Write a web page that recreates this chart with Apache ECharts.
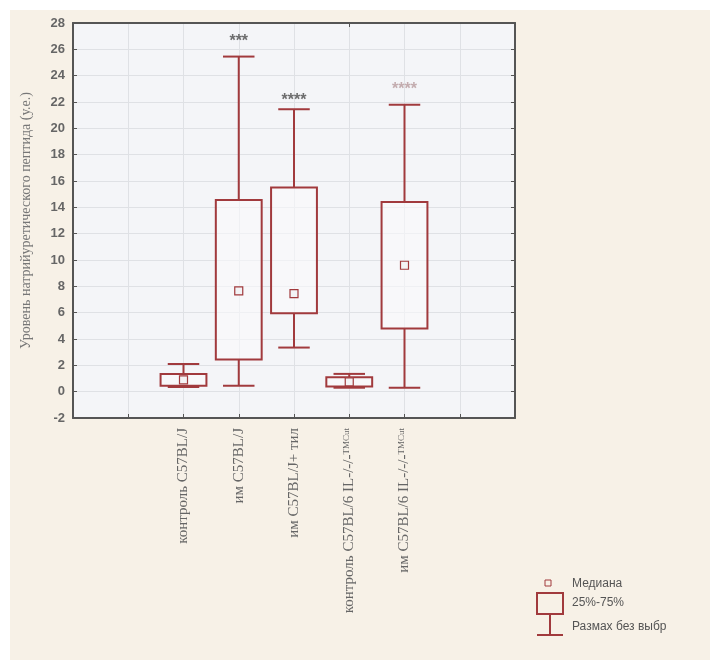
<!DOCTYPE html>
<html>
<head>
<meta charset="utf-8">
<script src="https://cdn.jsdelivr.net/npm/echarts@6/dist/echarts.min.js"></script>
<style>
html,body{margin:0;padding:0;background:#ffffff;}
#chart{width:710px;height:660px;}
</style>
</head>
<body>
<div id="chart"></div>
<script>
// ---- data ----
var categories = ['контроль C57BL/J', 'им C57BL/J', 'им C57BL/J+ тил', 'контроль C57BL/6 IL-/-/-', 'им C57BL/6 IL-/-/-'];
var catSup = ['', '', '', 'TMCut', 'TMCut'];
var whiskerMin = [0.35, 0.45, 3.35, 0.3, 0.3];
var q1 = [0.45, 2.45, 5.95, 0.4, 4.8];
var median = [0.9, 7.65, 7.45, 0.75, 9.6];
var q3 = [1.35, 14.55, 15.5, 1.1, 14.4];
var whiskerMax = [2.1, 25.45, 21.45, 1.35, 21.8];
var starText = ['', '***', '****', '', '****'];
var starY = [null, 26.6, 22.1, null, 22.95];
var yTicks = { min: -2, max: 28, interval: 2 };
var legendLabels = ['Медиана', '25%-75%', 'Размах без выбр'];

// ---- derived ----
var pad = 2; // empty slots at start
var axisCats = ['', ''].concat(categories.map(function (c, i) { return catSup[i] ? c + '{sup|' + catSup[i] + '}' : c; })).concat(['', '']);
var boxData = categories.map(function (c, i) {
  return [i + pad, whiskerMin[i], q1[i], median[i], q3[i], whiskerMax[i]];
});
var starData = [];
categories.forEach(function (c, i) {
  if (starText[i]) starData.push({ value: [i + pad, starY[i]], label: { formatter: starText[i], color: i === 4 ? '#b79a9c' : '#4a4a4a' } });
});

var RED = '#a13a3d';
var chart = echarts.init(document.getElementById('chart'), null, { renderer: 'canvas' });

var option = {
  backgroundColor: '#ffffff',
  animation: false,
  graphic: [
    { type: 'rect', z: -10, shape: { x: 10, y: 10, width: 700, height: 650 }, style: { fill: '#f7f1e7' } },
    // legend
    { type: 'rect', shape: { x: 545, y: 580, width: 6, height: 6 }, style: { stroke: RED, fill: '#f7f1e7', lineWidth: 1 } },
    { type: 'rect', shape: { x: 537, y: 593, width: 26, height: 21 }, style: { stroke: RED, fill: '#f7f1e7', lineWidth: 2 } },
    { type: 'line', shape: { x1: 550, y1: 614, x2: 550, y2: 635 }, style: { stroke: RED, lineWidth: 2 } },
    { type: 'line', shape: { x1: 537, y1: 635, x2: 563, y2: 635 }, style: { stroke: RED, lineWidth: 2 } },
    { type: 'text', x: 572, y: 584, style: { text: legendLabels[0], fill: '#555', font: '12px "Liberation Sans", Arial, sans-serif', verticalAlign: 'middle' } },
    { type: 'text', x: 572, y: 603, style: { text: legendLabels[1], fill: '#555', font: '12px "Liberation Sans", Arial, sans-serif', verticalAlign: 'middle' } },
    { type: 'text', x: 572, y: 627, style: { text: legendLabels[2], fill: '#555', font: '12px "Liberation Sans", Arial, sans-serif', verticalAlign: 'middle' } }
  ],
  grid: {
    left: 73, top: 23, right: 195, bottom: 242,
    show: true, backgroundColor: '#f4f5f8', borderWidth: 0
  },
  xAxis: [
    {
      type: 'category', data: axisCats, boundaryGap: false, position: 'bottom',
      axisLine: { show: true, onZero: false, lineStyle: { color: '#555', width: 2 } },
      axisTick: { show: true, inside: true, length: 4, alignWithLabel: true, lineStyle: { color: '#555' } },
      splitLine: { show: true, lineStyle: { color: '#dfe1e5', width: 1 } },
      axisLabel: {
        interval: 0, rotate: 90, margin: 10, color: '#666',
        fontFamily: '"Liberation Serif", "Times New Roman", serif', fontSize: 15,
        rich: { sup: { fontSize: 9, verticalAlign: 'top', color: '#666', fontFamily: '"Liberation Serif", serif' } }
      }
    },
    {
      type: 'category', data: axisCats, boundaryGap: false, position: 'top',
      axisLine: { show: true, onZero: false, lineStyle: { color: '#555', width: 2 } },
      axisTick: { show: true, inside: true, length: 4, lineStyle: { color: '#555' } },
      axisLabel: { show: false }, splitLine: { show: false }
    }
  ],
  yAxis: [
    {
      type: 'value', min: yTicks.min, max: yTicks.max, interval: yTicks.interval, position: 'left',
      name: 'Уровень натрийуретического пептида (у.е.)', nameLocation: 'middle', nameGap: 40, nameRotate: 90,
      nameTextStyle: { color: '#777', fontFamily: '"Liberation Serif", "Times New Roman", serif', fontSize: 14 },
      axisLine: { show: true, onZero: false, lineStyle: { color: '#555', width: 2 } },
      axisTick: { show: true, inside: true, length: 4, lineStyle: { color: '#555' } },
      splitLine: { show: true, lineStyle: { color: '#dfe1e5', width: 1 } },
      axisLabel: { color: '#666', fontSize: 13, fontWeight: 'bold', margin: 8, fontFamily: '"Liberation Sans", Arial, sans-serif' }
    },
    {
      type: 'value', min: yTicks.min, max: yTicks.max, interval: yTicks.interval, position: 'right',
      axisLine: { show: true, onZero: false, lineStyle: { color: '#555', width: 2 } },
      axisTick: { show: true, inside: true, length: 4, lineStyle: { color: '#555' } },
      splitLine: { show: false }, axisLabel: { show: false }
    }
  ],
  series: [
    {
      type: 'custom',
      xAxisIndex: 0, yAxisIndex: 0,
      encode: { x: 0, y: [1, 2, 3, 4, 5] },
      data: boxData,
      renderItem: function (params, api) {
        var x = api.value(0);
        var pMin = api.coord([x, api.value(1)]);
        var pQ1 = api.coord([x, api.value(2)]);
        var pMed = api.coord([x, api.value(3)]);
        var pQ3 = api.coord([x, api.value(4)]);
        var pMax = api.coord([x, api.value(5)]);
        var band = api.size([1, 0])[0];
        var bw = band * 0.83, cw = band * 0.57;
        var cx = pMed[0];
        var st = { stroke: RED, lineWidth: 2, fill: null };
        return {
          type: 'group',
          children: [
            { type: 'line', shape: { x1: cx, y1: pMax[1], x2: cx, y2: pQ3[1] }, style: st },
            { type: 'line', shape: { x1: cx, y1: pQ1[1], x2: cx, y2: pMin[1] }, style: st },
            { type: 'line', shape: { x1: cx - cw / 2, y1: pMax[1], x2: cx + cw / 2, y2: pMax[1] }, style: st },
            { type: 'line', shape: { x1: cx - cw / 2, y1: pMin[1], x2: cx + cw / 2, y2: pMin[1] }, style: st },
            { type: 'rect', shape: { x: cx - bw / 2, y: pQ3[1], width: bw, height: pQ1[1] - pQ3[1] }, style: { stroke: RED, lineWidth: 2, fill: 'rgba(250,250,252,0.6)' } },
            { type: 'rect', shape: { x: cx - 4, y: pMed[1] - 4, width: 8, height: 8 }, style: { stroke: RED, lineWidth: 1.2, fill: '#f3f3f5' } }
          ]
        };
      }
    },
    {
      type: 'scatter',
      symbolSize: 0,
      data: starData,
      label: {
        show: true, position: 'inside', fontSize: 16, fontWeight: 'bold',
        fontFamily: '"Liberation Sans", Arial, sans-serif'
      }
    }
  ]
};
chart.setOption(option);
</script>
</body>
</html>
